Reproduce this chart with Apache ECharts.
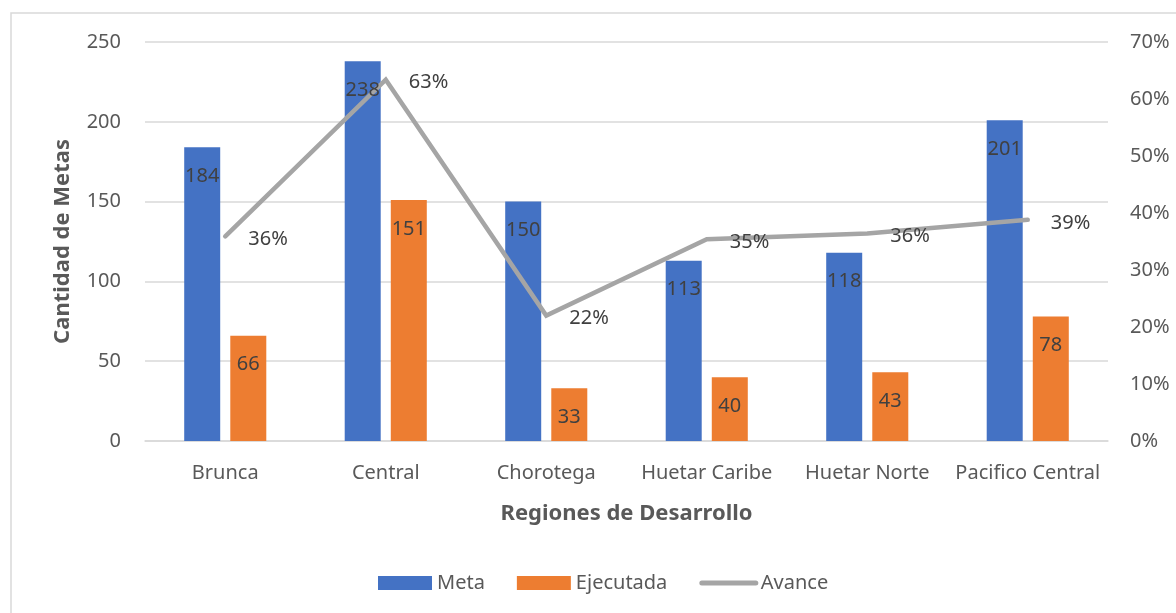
<!DOCTYPE html>
<html><head><meta charset="utf-8">
<script src="https://cdn.jsdelivr.net/npm/echarts@6/dist/echarts.min.js"></script>
<style>html,body{margin:0;padding:0;background:#fff}#c{width:1176px;height:613px}</style>
</head><body><div id="c"></div>
<script>
const categories = ['Brunca', 'Central', 'Chorotega', 'Huetar Caribe', 'Huetar Norte', 'Pacifico Central'];
const meta = [184, 238, 150, 113, 118, 201];
const ejecutada = [66, 151, 33, 40, 43, 78];
const avance = [0.359, 0.634, 0.22, 0.354, 0.364, 0.388];
const leftTicks = {min: 0, max: 250, interval: 50};
const rightTicks = {min: 0, max: 0.7, interval: 0.1};

const FONT = '"Noto Sans", "Open Sans", sans-serif';
const TXT = '#595959';
const barLabel = {show: true, position: 'insideTop', distance: 19, color: '#404040', fontSize: 20};
const chart = echarts.init(document.getElementById('c'));
chart.setOption({
  animation: false,
  textStyle: {fontFamily: FONT},
  graphic: [{type: 'rect', shape: {x: 11, y: 13, width: 1300, height: 800},
    style: {fill: 'none', stroke: '#d9d9d9', lineWidth: 1.5}, silent: true}],
  grid: {left: 145, right: 68, top: 42, bottom: 172},
  legend: {
    bottom: 15, left: 373, itemWidth: 54, itemHeight: 14, itemGap: 32,
    textStyle: {color: TXT, fontSize: 20, fontFamily: FONT},
    data: [{name: 'Meta', icon: 'rect'}, {name: 'Ejecutada', icon: 'rect'},
      {name: 'Avance', itemStyle: {color: 'rgba(0,0,0,0)', borderWidth: 0}, lineStyle: {width: 5, cap: 'round'}}]
  },
  xAxis: [{
    type: 'category', data: categories,
    name: 'Regiones de Desarrollo', nameLocation: 'middle', nameGap: 62,
    nameTextStyle: {color: TXT, fontSize: 22, fontWeight: 'bold'},
    axisLine: {lineStyle: {color: '#d9d9d9', width: 1.5}},
    axisTick: {show: false},
    axisLabel: {color: TXT, fontSize: 20, margin: 22, interval: 0}
  }, {
    type: 'category', data: categories, show: false
  }],
  yAxis: [{
    type: 'value', min: leftTicks.min, max: leftTicks.max, interval: leftTicks.interval,
    name: 'Cantidad de Metas', nameLocation: 'middle', nameGap: 71, nameRotate: 90,
    nameTextStyle: {color: TXT, fontSize: 22, fontWeight: 'bold'},
    axisLine: {show: false}, axisTick: {show: false},
    axisLabel: {color: TXT, fontSize: 20, margin: 24},
    splitLine: {lineStyle: {color: '#d9d9d9', width: 1.5}}
  }, {
    type: 'value', min: rightTicks.min, max: rightTicks.max, interval: rightTicks.interval,
    axisLine: {show: false}, axisTick: {show: false},
    axisLabel: {color: TXT, fontSize: 20, margin: 22, formatter: v => Math.round(v * 100) + '%'},
    splitLine: {show: false}
  }],
  series: [{
    name: 'Meta', type: 'bar', data: meta, barWidth: 36, barGap: '28%', z: 2,
    itemStyle: {color: '#4472C4'}
  }, {
    name: 'Ejecutada', type: 'bar', data: ejecutada, barWidth: 36, z: 2,
    itemStyle: {color: '#ED7D31'}
  }, {
    name: 'Avance', type: 'line', yAxisIndex: 1, data: avance, z: 5,
    symbol: 'circle', symbolSize: 2, showSymbol: true,
    lineStyle: {color: '#A5A5A5', width: 4.5, cap: 'round', join: 'miter'},
    itemStyle: {color: 'rgba(0,0,0,0)', borderWidth: 0},
    label: {show: true, position: 'right', distance: 22, offset: [0, 3], color: '#404040', fontSize: 20,
      formatter: p => Math.round(p.value * 100) + '%'}
  }, {
    name: 'MetaLabels', type: 'bar', xAxisIndex: 1, data: meta, barWidth: 36, barGap: '28%', z: 10,
    itemStyle: {color: 'rgba(0,0,0,0)'}, label: barLabel, silent: true
  }, {
    name: 'EjecutadaLabels', type: 'bar', xAxisIndex: 1, data: ejecutada, barWidth: 36, z: 10,
    itemStyle: {color: 'rgba(0,0,0,0)'}, label: barLabel, silent: true
  }]
});
</script></body></html>
